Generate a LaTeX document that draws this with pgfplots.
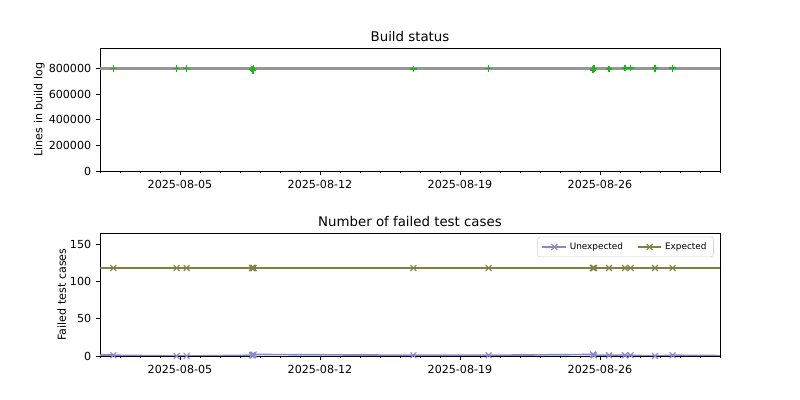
\documentclass[border=0pt]{standalone}
\usepackage{pgfplots}
\pgfplotsset{compat=1.18}
\usepackage{fontspec}
\setmainfont{DejaVu Sans}
\definecolor{buildgreen}{RGB}{30,180,30}
\definecolor{buildgray}{RGB}{150,150,150}
\definecolor{unexp}{RGB}{136,136,204}
\definecolor{expc}{RGB}{128,128,64}
\pgfplotsset{
  common/.style={
    scale only axis, width=446.4pt, height=88.56pt,
    xmin=1, xmax=32,
    tick pos=left, tick align=outside,
    major tick length=2.8pt, minor tick length=1.6pt,
    xtick={5,12,19,26},
    xticklabels={2025-08-05,2025-08-12,2025-08-19,2025-08-26},
    minor xtick={1,...,32},
    ticklabel style={font=\fontsize{8}{9}\selectfont},
    label style={font=\fontsize{8}{9}\selectfont},
    title style={font=\fontsize{9.6}{11}\selectfont, yshift=-5pt},
    ylabel shift=-4pt,
    /pgf/number format/assume math mode=true,
    scaled y ticks=false,
    yticklabel style={/pgf/number format/.cd, fixed, 1000 sep={}},
    axis line style={line width=0.6pt},
    every tick/.style={black, line width=0.6pt},
  }
}
\begin{document}
\begin{tikzpicture}
\path (0,0) rectangle (576pt,288pt);
\begin{axis}[common, at={(72pt,164.88pt)}, anchor=south west,
  ymin=0, ymax=960000, ytick={0,200000,400000,600000,800000},
  title={Build status}, ylabel={Lines in build log}]
\addplot[buildgray, line width=1.5pt] coordinates {(1,800000) (32,800000)};
\addplot[only marks, mark=+, mark size=2.4pt, buildgreen, mark options={line width=1.2pt}] coordinates {
(1.67,800000) (4.83,800000) (5.33,800000) (8.60,795000) (8.65,785000) (8.68,800000)
(16.67,795000) (20.43,800000) (25.65,790000) (25.70,800000) (26.45,797000)
(27.25,803000) (27.53,803000) (28.75,802000) (29.63,802000)};
\end{axis}
\begin{axis}[common, at={(72pt,31.68pt)}, anchor=south west,
  ymin=0, ymax=165, ytick={0,50,100,150},
  title={Number of failed test cases}, ylabel={Failed test cases},
  legend style={at={(0.99,0.97)}, anchor=north east, legend columns=2,
    font=\fontsize{6.4}{7}\selectfont, draw=gray!35, rounded corners=2pt,
    /tikz/every even column/.append style={column sep=8pt}},
  legend cell align=left]
\addplot[unexp, line width=1.2pt, mark=x, mark size=3pt, mark options={line width=0.8pt}] coordinates {
(1.67,1) (4.83,0) (5.33,0) (8.60,1) (8.65,1) (8.68,2) (16.67,1) (20.43,1)
(25.65,2) (25.70,1) (26.45,1) (27.25,1) (27.53,1) (28.75,0) (29.63,1)};
\addlegendentry{Unexpected}
\addplot[expc, line width=1.2pt, mark=x, mark size=3pt, mark options={line width=0.8pt}] coordinates {
(1.67,118) (4.83,118) (5.33,118) (8.60,118) (8.65,118) (8.68,118) (16.67,118) (20.43,118)
(25.65,118) (25.70,118) (26.45,118) (27.25,118) (27.53,118) (28.75,118) (29.63,118)};
\addlegendentry{Expected}
\addplot[unexp, line width=1.2pt, forget plot] coordinates {(1,1) (1.67,1)};
\addplot[unexp, line width=1.2pt, forget plot] coordinates {(29.63,1) (32,0.5)};
\addplot[expc, line width=1.2pt, forget plot] coordinates {(1,118) (32,118)};
\end{axis}
\end{tikzpicture}
\end{document}
